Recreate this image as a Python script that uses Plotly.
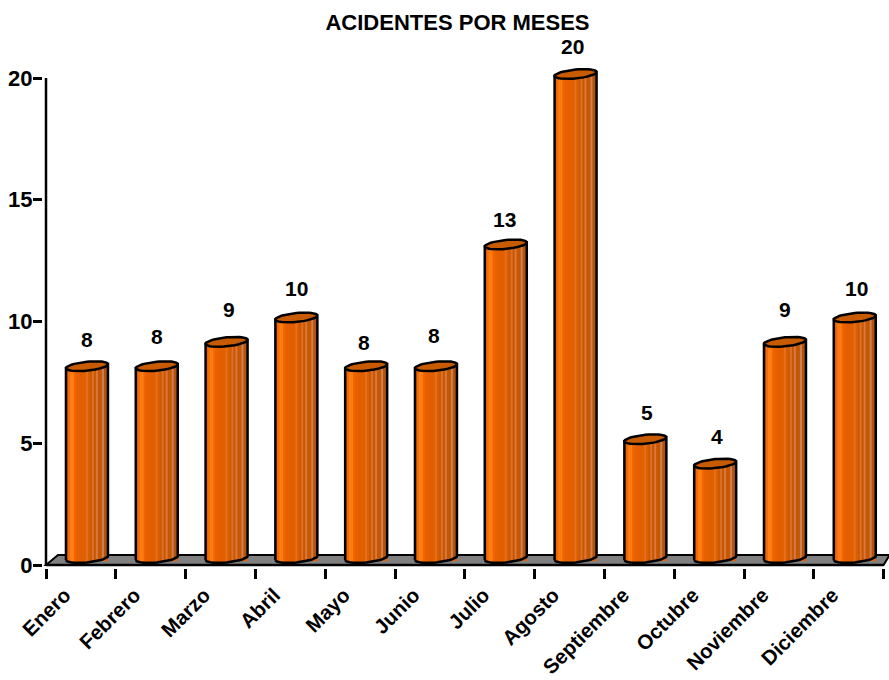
import math
import plotly.graph_objects as go

months = ["Enero", "Febrero", "Marzo", "Abril", "Mayo", "Junio", "Julio", "Agosto",
          "Septiembre", "Octubre", "Noviembre", "Diciembre"]
values = [8, 8, 9, 10, 8, 8, 13, 20, 5, 4, 9, 10]
title = "ACIDENTES POR MESES"
y_ticks = [0, 5, 10, 15, 20]
label_yshift = [31, 34, 36, 33, 28, 35, 29, 32, 31, 31, 36, 33]
label_xshift = [0, 0, 2, 0, -2, -2, -1, -3, 2, 2, 0, 2]

strip_colors = ["#D85A00", "#F06A08", "#FF7E14", "#FF7E14", "#F06600", "#E86000", "#E46000",
                "#E25E00", "#E06000", "#E06000", "#E86E20", "#D86000", "#CC5A00", "#D87030",
                "#C85800", "#D87840", "#C45800", "#C05808", "#D08050", "#B05410", "#A85010"]

W, H = 889, 680
AX_L, AX_R, AX_T, AX_B = 46, 883.6, 78, 565
px_x = (AX_R - AX_L) / 12
px_y = (AX_B - AX_T) / 20
dx = 1 / px_x
dy = 1 / px_y
cx_off = 0.587
half = 21 * dx
TOP = 4 * dy
SHEAR = 2.0 * dy
MINOR = 4.5 * dy
BASE = 7 * dy

x0, x1 = -3 * dx, (W - AX_L) * dx
y0, y1 = -3 * dy, (AX_B - 40) * dy


def ell(cx, cy, n=48):
    xs, ys = [], []
    for k in range(n + 1):
        a = 2 * math.pi * k / n
        xs.append(cx + half * math.cos(a))
        ys.append(cy + SHEAR * math.cos(a) + MINOR * math.sin(a))
    return xs, ys


fig = go.Figure()
centers = [i + cx_off for i in range(12)]
fig.add_trace(go.Bar(x=centers, y=values, base=[TOP] * 12, width=[2 * half] * 12,
                     marker=dict(color="#E86000", line=dict(width=0)), showlegend=False))

n = len(strip_colors)
for j, col in enumerate(strip_colors):
    t = (j + 0.5) / n * 2 - 1
    sh = SHEAR * t
    low = BASE + sh - MINOR * math.sqrt(max(0, 1 - t * t))
    fig.add_trace(go.Bar(x=[c + t * half for c in centers],
                         y=[v + TOP + sh - low for v in values],
                         base=[low] * 12, width=[2 * half / n + 0.002] * 12,
                         marker=dict(color=col, line=dict(width=0)),
                         hoverinfo="skip", showlegend=False))

for c, v, ys_, xs_ in zip(centers, values, label_yshift, label_xshift):
    xs, ys = [], []
    for k in range(25):
        a = math.pi + math.pi * k / 24
        xs.append(c + half * math.cos(a))
        ys.append(BASE + SHEAR * math.cos(a) + MINOR * math.sin(a))
    xs.append(c + half)
    ys.append(v + TOP + SHEAR)
    xs.append(c - half)
    ys.append(v + TOP - SHEAR)
    xs.append(xs[0])
    ys.append(ys[0])
    fig.add_trace(go.Scatter(x=xs, y=ys, mode="lines", line=dict(color="black", width=2.5),
                             hoverinfo="skip", showlegend=False))
    ex, ey = ell(c, v + TOP)
    fig.add_trace(go.Scatter(x=ex, y=ey, mode="lines", fill="toself", fillcolor="#C85A00",
                             line=dict(color="black", width=2.5),
                             hoverinfo="skip", showlegend=False))
    fig.add_annotation(x=c, y=v, text=f"<b>{v}</b>", showarrow=False, yshift=ys_, xshift=xs_,
                       font=dict(size=21, color="black"))

fig.add_trace(go.Scatter(x=[0, 0], y=[0, 20], mode="lines", line=dict(color="black", width=2.5),
                         hoverinfo="skip", showlegend=False))
fig.add_trace(go.Scatter(x=[0, 12], y=[0, 0], mode="lines", line=dict(color="black", width=2.5),
                         hoverinfo="skip", showlegend=False))

floor_path = f"M 0 0 L {12 * dx} {10 * dy} L {12 + 6 * dx} {10 * dy} L 12 0 Z"

fig.update_layout(
    width=W, height=H, barmode="overlay", plot_bgcolor="white", paper_bgcolor="white",
    margin=dict(l=AX_L - 3, r=0, t=40, b=H - AX_B - 3, autoexpand=False), showlegend=False,
    font=dict(family="Liberation Sans", size=22, color="black"),
    title=dict(text=f"<b>{title}</b>", x=457.5 / W, xanchor="center", y=1 - 22 / H, yanchor="middle",
               font=dict(size=22, color="black")),
    shapes=[dict(type="path", path=floor_path, xref="x", yref="y", layer="below",
                 fillcolor="#808080", line=dict(color="black", width=2))],
    xaxis=dict(range=[x0, x1], tickmode="array", tickvals=[i + 0.27 for i in range(12)],
               ticktext=[f"<b>{m}</b>" for m in months], tickangle=-45, ticks="outside", ticklen=6,
               tickcolor="rgba(0,0,0,0)", tickfont=dict(size=20.5),
               showgrid=False, showline=False, zeroline=False,
               minor=dict(tickmode="array", tickvals=list(range(13)), ticks="outside", ticklen=10,
                          tickwidth=2.5, tickcolor="black", showgrid=False)),
    yaxis=dict(range=[y0, y1], tickmode="array", tickvals=y_ticks, ticktext=[f"<b>{t}</b>" for t in y_ticks],
               ticks="outside", ticklen=9, tickwidth=2.5, tickcolor="black", showgrid=False,
               ticklabelstandoff=-4, showline=False, zeroline=False),
)

fig.write_html("out.html", config={"displayModeBar": False},
               post_script="document.body.style.margin='0';document.documentElement.style.overflow='hidden';")
